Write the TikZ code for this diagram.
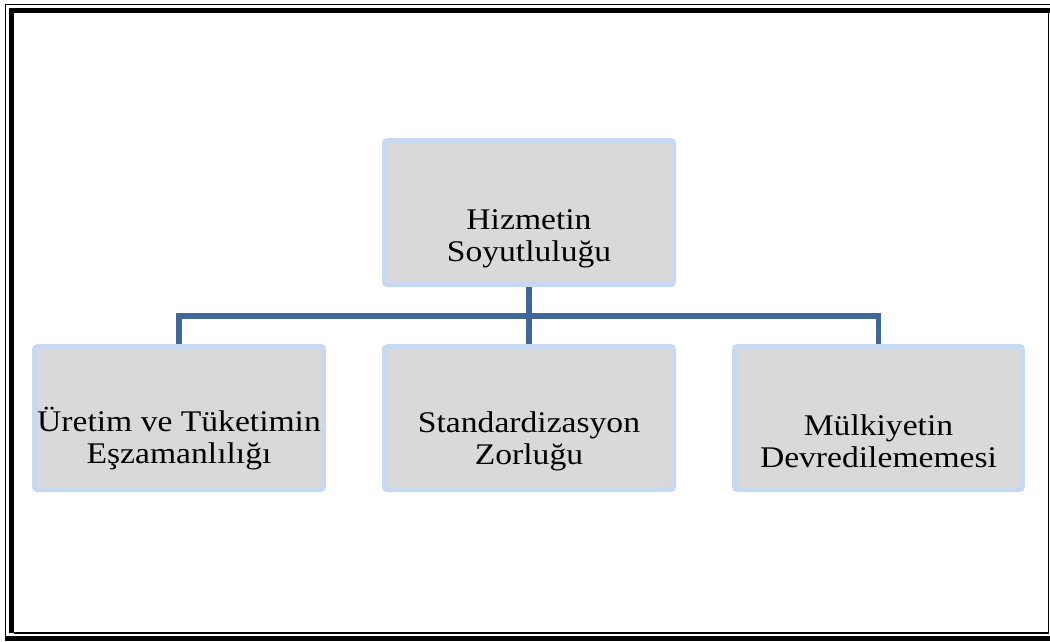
\documentclass[tikz,border=0pt]{standalone}
\usepackage{fontspec}
\setmainfont{Liberation Serif}[FakeStretch=1.12]
\usetikzlibrary{calc}
\definecolor{boxfill}{RGB}{217,217,217}
\definecolor{boxedge}{RGB}{198,217,241}
\definecolor{linkblue}{RGB}{64,103,153}
\tikzset{
  box/.style={draw=boxedge, fill=boxfill, line width=5pt, rounded corners=3pt,
              inner sep=0pt, minimum width=289pt},
  lbl/.style={align=center, inner sep=0pt, font=\fontsize{30}{32}\selectfont},
  link/.style={draw=linkblue, line width=5.5pt, line join=miter}
}
\begin{document}
\begin{tikzpicture}[x=1pt, y=-1pt]
\useasboundingbox (0,0) rectangle (1050,641);
% page frame
\fill[black] (9,8) rectangle (1050,13);
\fill[black] (9,8) rectangle (14,633);
\fill[black] (5,636) rectangle (1050,641);
\draw[black, line width=1.4pt] (5.7,640) -- (5.7,4.7) -- (1050,4.7);
\draw[black, line width=1.6pt] (14,633) -- (1048.6,633) -- (1048.6,13);
% boxes
\node[box, minimum height=144pt] (top) at (529,212.5) {};
\node[box, minimum height=143pt] (b1) at (179,418) {};
\node[box, minimum height=143pt] (b2) at (529,418) {};
\node[box, minimum height=143pt, minimum width=288pt] (b3) at (878.5,418) {};
% connectors
\draw[link] (top.south) -- ++(0,29) -| (b1.north);
\draw[link] (top.south) -- ++(0,29) -| (b3.north);
\draw[link] (top.south) -- (b2.north);
% labels
\node[lbl] (t0) at ($(top.center)+(0,26.5)$) {Hizmetin\\Soyutluluğu};
\node[lbl] (t1) at ($(b1.center)+(0,21)$) {Üretim ve Tüketimin\\Eşzamanlılığı};
\node[lbl] (t2) at ($(b2.center)+(0,23)$) {Standardizasyon\\Zorluğu};
\node[lbl] (t3) at ($(b3.center)+(0,23)$) {Mülkiyetin\\Devredilememesi};
\end{tikzpicture}
\end{document}
